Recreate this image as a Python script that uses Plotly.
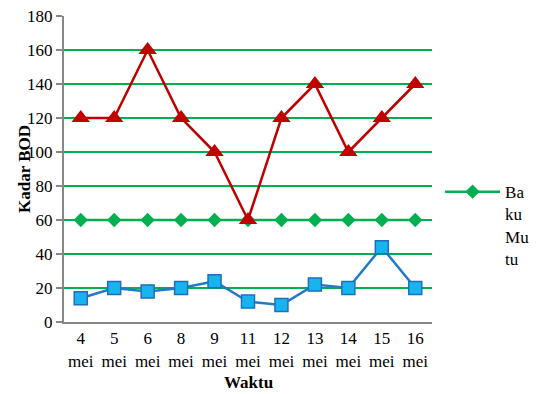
import plotly.graph_objects as go

# Sampling dates and measured BOD levels
tanggal = ["4<br>mei", "5<br>mei", "6<br>mei", "8<br>mei", "9<br>mei", "11<br>mei",
           "12<br>mei", "13<br>mei", "14<br>mei", "15<br>mei", "16<br>mei"]
bod_tinggi = [120, 120, 160, 120, 100, 60, 120, 140, 100, 120, 140]
bod_rendah = [14, 20, 18, 20, 24, 12, 10, 22, 20, 44, 20]
baku_mutu = [60, 60, 60, 60, 60, 60, 60, 60, 60, 60, 60]
y_ticks = [0, 20, 40, 60, 80, 100, 120, 140, 160, 180]

FONT = "Liberation Serif, Times New Roman, serif"
x = list(range(len(tanggal)))

fig = go.Figure()
fig.add_trace(go.Scatter(
    x=x, y=baku_mutu, name="Ba<br>ku<br>Mu<br>tu", mode="lines+markers",
    line=dict(color="#00B050", width=2.5),
    marker=dict(symbol="diamond", size=11, color="#00B050"),
))
fig.add_trace(go.Scatter(
    x=x, y=bod_tinggi, showlegend=False, mode="lines+markers",
    line=dict(color="#C00000", width=2.5),
    marker=dict(symbol="triangle-up", size=16, color="#C00000"),
))
fig.add_trace(go.Scatter(
    x=x, y=bod_rendah, showlegend=False, mode="lines+markers",
    line=dict(color="#1F7BC8", width=2.5),
    marker=dict(symbol="square", size=13, color="#18B4F0",
                line=dict(color="#1F6FB8", width=1.5)),
))

fig.update_layout(
    width=540, height=394,
    margin=dict(l=64, r=108, t=16, b=72, autoexpand=False),
    paper_bgcolor="white", plot_bgcolor="white",
    font=dict(family=FONT, size=17, color="black"),
    legend=dict(xref="container", yref="container", x=0.815, y=0.558,
                xanchor="left", yanchor="top",
                valign="top", font=dict(family=FONT, size=17), tracegroupgap=0,
                itemwidth=55, bgcolor="rgba(0,0,0,0)"),
    xaxis=dict(
        tickvals=x, ticktext=tanggal, range=[-0.5, len(tanggal) - 0.5],
        showgrid=False, showline=True, linecolor="#878787", linewidth=2,
        ticks="", zeroline=False, automargin=False,
        tickfont=dict(family=FONT, size=17),
    ),
    yaxis=dict(
        range=[0, 180], tickvals=y_ticks,
        showgrid=True, gridcolor="#00B050", gridwidth=2,
        showline=True, linecolor="#878787", linewidth=2,
        ticks="outside", ticklen=6, tickcolor="#878787", tickwidth=2,
        zeroline=False, automargin=False,
        tickfont=dict(family=FONT, size=17),
    ),
    annotations=[
        dict(text="<b>Kadar BOD</b>", textangle=-90, xref="paper", yref="paper",
             x=0, y=0.5, xshift=-40, xanchor="center", yanchor="middle",
             showarrow=False, font=dict(size=17, family=FONT)),
        dict(text="<b>Waktu</b>", xref="paper", yref="paper",
             x=0.5, y=0, yshift=-60, xanchor="center", yanchor="middle",
             showarrow=False, font=dict(size=17, family=FONT)),
    ],
)

fig.write_html("out.html")
